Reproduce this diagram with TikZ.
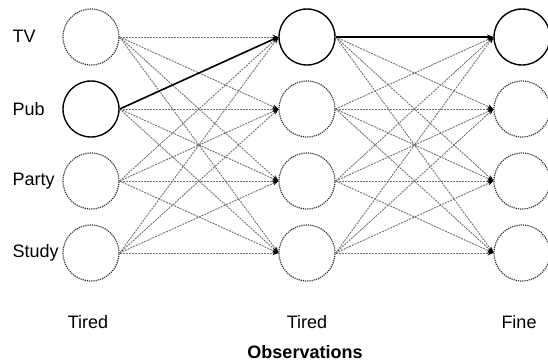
\documentclass[tikz,border=0pt]{standalone}
\usepackage{fontspec}
\setmainfont{Liberation Sans}
\usetikzlibrary{arrows.meta}
\begin{document}
\begin{tikzpicture}[x=1pt,y=-1pt,
  st/.style={circle,minimum size=56pt,inner sep=0pt,draw=black!80,line width=1.2pt,dash pattern=on 1.2pt off 1pt},
  sel/.style={circle,minimum size=56pt,inner sep=0pt,draw=black,line width=1.4pt},
  lbl/.style={font=\fontsize{18}{21}\selectfont,anchor=west},
  obstxt/.style={font=\fontsize{18}{21}\selectfont},
  ed/.style={draw=black!55,line width=0.9pt,dash pattern=on 2pt off 1pt,-{Stealth[length=6pt,width=4.5pt,black]}},
  bed/.style={draw=black,line width=1.6pt,-{Stealth[length=6pt,width=4.5pt,black]}}]
\useasboundingbox (0,0) rectangle (548,362);
\fill[white] (0,0) rectangle (548,362);
% column 1
\node[st]  (a1) at (91,37) {};
\node[sel] (a2) at (91,109) {};
\node[st]  (a3) at (91,181) {};
\node[st]  (a4) at (91,253) {};
% column 2
\node[sel] (b1) at (307,37) {};
\node[st]  (b2) at (307,109) {};
\node[st]  (b3) at (307,181) {};
\node[st]  (b4) at (307,253) {};
% column 3
\node[sel] (c1) at (522,37) {};
\node[st]  (c2) at (522,109) {};
\node[st]  (c3) at (522,181) {};
\node[st]  (c4) at (522,253) {};
% labels
\node[lbl] (lTV) at (9,36) {TV};
\node[lbl] (lPub) at (9,109) {Pub};
\node[lbl] (lParty) at (9,181) {Party};
\node[lbl] (lStudy) at (9,253) {Study};
\node[obstxt] (o1) at (88,322) {Tired};
\node[obstxt] (o2) at (307,322) {Tired};
\node[obstxt] (o3) at (519,322) {Fine};
\node[obstxt,font=\fontsize{18}{21}\selectfont\bfseries] (obs) at (305,352) {Observations};
% dotted transitions
\foreach \i in {1,2,3,4}{
  \foreach \j in {1,2,3,4}{
    \draw[ed] (a\i.east) -- (b\j.west);
    \draw[ed] (b\i.east) -- (c\j.west);
  }
}
% selected path
\draw[bed] (a2.east) -- (b1.west);
\draw[bed] (b1.east) -- (c1.west);
\end{tikzpicture}
\end{document}
